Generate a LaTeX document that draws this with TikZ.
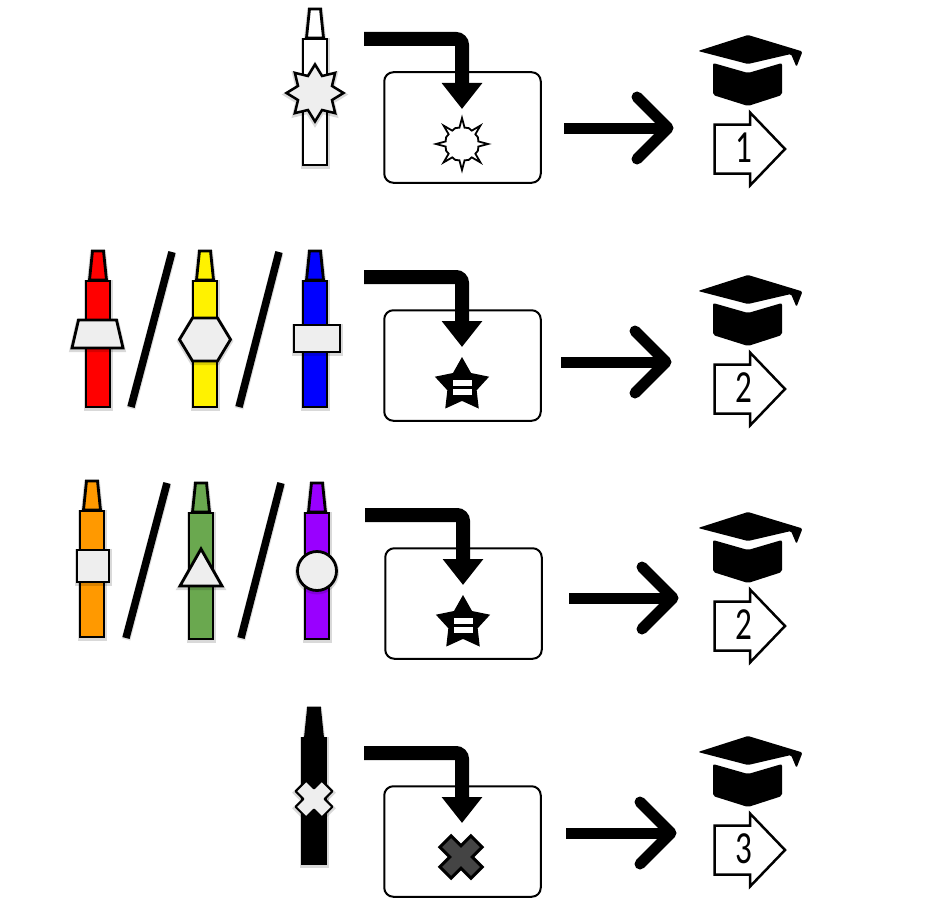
\documentclass[tikz,border=0pt]{standalone}
\usepackage{fontspec}
\setmainfont{Carlito}
\usetikzlibrary{arrows.meta,shapes.geometric}
\definecolor{pale}{HTML}{EEEEEE}
\definecolor{cgreen}{HTML}{6AA84F}
\definecolor{corange}{HTML}{FF9900}
\definecolor{cpurple}{HTML}{9900FF}
\definecolor{xgrey}{HTML}{444444}
\tikzset{
  softedge/.style={preaction={draw=black,draw opacity=.15,fill opacity=0,line width=5pt,transform canvas={yshift=-1.5pt}}},
  part/.style={draw=black,line width=2.8pt,line join=miter,softedge},
  slashbar/.style={draw=black,line width=7.5pt,preaction={draw=black,draw opacity=.12,line width=9pt,transform canvas={yshift=-1.5pt}}},
  panel/.style={draw=black,line width=2pt,rounded corners=9pt,minimum width=156.5pt,minimum height=110.5pt,inner sep=0pt},
  bent/.style={draw=black,line width=14pt,rounded corners=6pt,-{Triangle[length=26pt,width=39pt]}},
  plainarrow/.style={draw=black,line width=11pt},
  openhead/.style={draw=black,line width=11pt,line cap=round,line join=round},
  blockarrow/.style={draw=black,fill=white,line width=2.5pt,line join=miter},
  digit/.style={font=\fontsize{46}{46}\selectfont,inner sep=0pt},
  starfive/.style={star,star points=5,star point ratio=1.85,minimum size=57pt,inner sep=0pt,fill=black},
  bar/.style={fill=white}
}
\newcommand{\crayonshape}[3]{% centre x, tip top y, colour
  \begin{scope}[shift={(#1,#2)}]
    \path[part,fill=#3] (-5.5,1) -- (5.5,1) -- (8.5,30) -- (-8.5,30) -- cycle;
    \path[part,fill=#3] (-12,31) rectangle (12,157);
  \end{scope}}
\newcommand{\gradcap}[1]{% y offset of the row
  \begin{scope}[yshift=-#1pt]
    \fill[black,rounded corners=1.5pt] (748,35) -- (802.5,51.5) -- (796.5,67) -- (791,54) -- (748,64) -- (698,51) -- cycle;
    \fill[black,rounded corners=2pt] (713,63) -- (748,73) -- (782,63) -- (782,95) -- (748,106) -- (713,95) -- cycle;
  \end{scope}}
\newcommand{\levelarrow}[3]{% name, y offset, digit
  \begin{scope}[yshift=-#2pt]
    \path[blockarrow] (714.5,124.5) -- (750,124.5) -- (750,112.5) -- (785,149) -- (750,185.5) -- (750,173.5) -- (714.5,173.5) -- cycle;
    \node[digit] (#1) at (744,148) {\scalebox{.72}[1]{#3}};
  \end{scope}}
\newcommand{\openarrow}[4]{% start x, tip x, y, name
  \coordinate (#4s) at (#1,#3);
  \coordinate (#4t) at (#2,#3);
  \draw[plainarrow] (#4s) -- (#4t);
  \draw[openhead] ([shift={(-31,-31)}]#4t) -- (#4t) -- ([shift={(-31,31)}]#4t);}
\newcommand{\equalstar}[3]{% x, y, name
  \node[starfive] (#3) at (#1,#2) {};
  \fill[bar] ([shift={(-9.5,-5.5)}]#3.center) rectangle ([shift={(9.5,0)}]#3.center);
  \fill[bar] ([shift={(-9.5,3.5)}]#3.center) rectangle ([shift={(9.5,9.5)}]#3.center);}
\newcommand{\crosspoly}[2]{% half width, half length
  (#1,#1) -- (#1,#2) -- (-#1,#2) -- (-#1,#1) -- (-#2,#1) -- (-#2,-#1) -- (-#1,-#1) -- (-#1,-#2) -- (#1,-#2) -- (#1,-#1) -- (#2,-#1) -- (#2,#1) -- cycle}
\begin{document}
\begin{tikzpicture}[x=1pt,y=-1pt]
\useasboundingbox (0,0) rectangle (933,923);
% ---------- row 1
\crayonshape{315}{8}{white}
\node[star,star points=8,star point ratio=1.55,minimum size=57pt,inner sep=0pt,fill=pale,part,line width=2.5pt,miter limit=6] (s1) at (315,93) {};
\node[panel] (b1) at (462.5,127.5) {};
\begin{scope}[shift={(462,144)}]
  \draw[black,line width=1.8pt,line join=miter,miter limit=8,fill=white]
    (0:26) \foreach \a in {0,45,...,315}{ -- (\a+0:26) -- (\a+9:16.5) -- (\a+22.5:17.3) -- (\a+36:16.5) } -- cycle;
\end{scope}
\coordinate (a1s) at (364,39); \coordinate (a1t) at (462,109);
\draw[bent] (a1s) -| (a1t);
\openarrow{564}{668}{128}{o1}
\gradcap{0}
\levelarrow{n1}{0}{1}
% ---------- row 2
\crayonshape{98}{250}{red}
\path[part,fill=pale] (78.5,320) -- (116.5,320) -- (123,348) -- (72,348) -- cycle;
\path[slashbar] (172,252) -- (131,407);
\crayonshape{205}{250}{yellow}
\path[part,fill=pale] (192.5,318) -- (217.5,318) -- (230.5,339.5) -- (217.5,361) -- (192.5,361) -- (179.5,339.5) -- cycle;
\path[slashbar] (279,252) -- (239,407);
\crayonshape{315}{250}{blue}
\path[part,fill=pale] (294,325) rectangle (340,352);
\node[panel] (b2) at (462.5,365.5) {};
\equalstar{462}{385.5}{e2}
\coordinate (a2s) at (364,277); \coordinate (a2t) at (462,347);
\draw[bent] (a2s) -| (a2t);
\openarrow{561}{666}{362}{o2}
\gradcap{240}
\levelarrow{n2}{240}{2}
% ---------- row 3
\crayonshape{92}{480}{corange}
\path[part,fill=pale] (77,550) rectangle (109,582);
\path[slashbar] (167,483) -- (126,638);
\crayonshape{201}{482}{cgreen}
\path[part,fill=pale] (201,549) -- (222,586) -- (180,586) -- cycle;
\path[slashbar] (281,483) -- (241,638);
\crayonshape{317}{482}{cpurple}
\path[part,fill=pale] (317,571) circle[radius=19.5];
\node[panel] (b3) at (463.5,603.5) {};
\equalstar{463}{623.5}{e3}
\coordinate (a3s) at (365,515); \coordinate (a3t) at (463,585);
\draw[bent] (a3s) -| (a3t);
\openarrow{569}{673}{598}{o3}
\gradcap{477}
\levelarrow{n3}{477}{2}
% ---------- row 4
\crayonshape{314}{707}{black}
\begin{scope}[shift={(314,799)},rotate=45]
  \path[draw=black,line width=2pt,line join=round,fill=pale,softedge] \crosspoly{7.5}{18.5};
\end{scope}
\node[panel] (b4) at (462.5,841.5) {};
\begin{scope}[shift={(461,857)},rotate=45]
  \draw[black,line width=3pt,line join=miter,fill=xgrey] \crosspoly{8}{22};
\end{scope}
\coordinate (a4s) at (364,753); \coordinate (a4t) at (462,823);
\draw[bent] (a4s) -| (a4t);
\openarrow{566}{671}{833}{o4}
\gradcap{701}
\levelarrow{n4}{701}{3}
\end{tikzpicture}
\end{document}
